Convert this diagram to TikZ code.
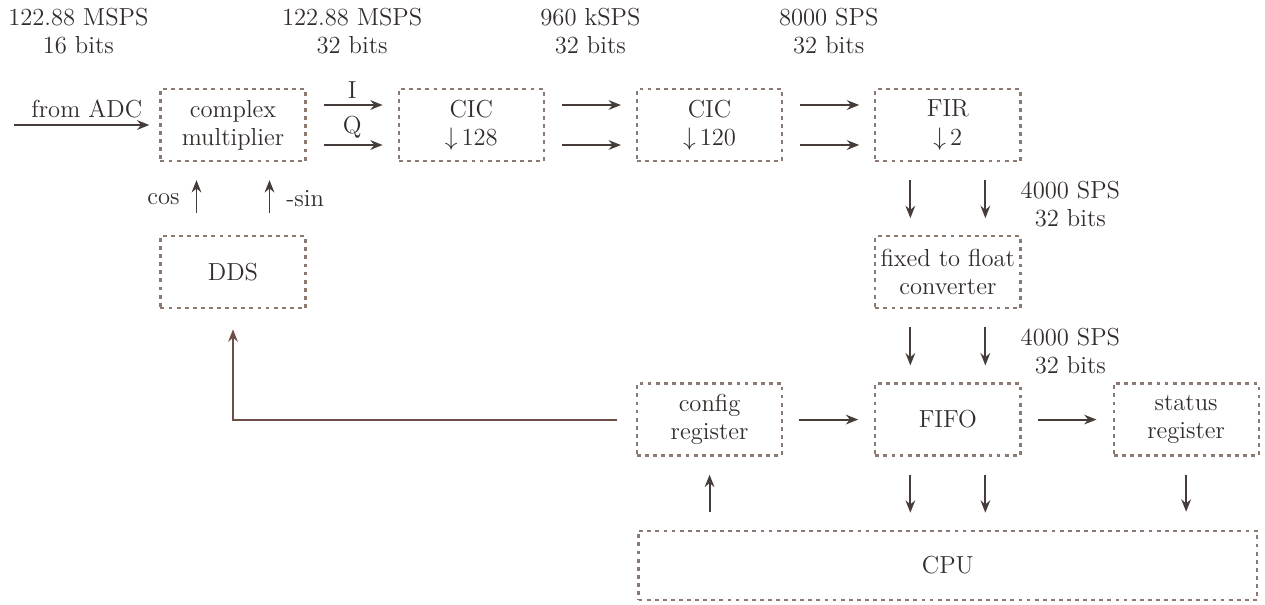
\documentclass[tikz,border=0pt]{standalone}
\usepackage{tikz}
\usetikzlibrary{arrows.meta,positioning,calc}
\definecolor{ink}{RGB}{50,45,43}
\definecolor{dots}{RGB}{140,122,114}
\definecolor{wire}{RGB}{70,60,58}
\definecolor{back}{RGB}{110,78,72}
\tikzset{
  flow/.style={-{Stealth[length=7pt,width=5.5pt]},line width=1.1pt,draw=wire},
  blk/.style={draw=dots,line width=1.3pt,dash pattern=on 2.2pt off 2.4pt,text=ink,
              align=center,minimum width=2.9cm,minimum height=1.44cm,inner sep=1pt},
  rate/.style={align=center,text=ink}
}

\begin{document}
\begin{tikzpicture}[node distance=1.46cm and 1.82cm,font=\fontsize{14}{16}\selectfont]
  \useasboundingbox (-4.66,2.5) rectangle (20.64,-9.58);
  % processing chain
  \node[blk] (mult) {complex\\multiplier};
  \node[blk,right=of mult] (cic1) {CIC\\$\downarrow$\,128};
  \node[blk,right=of cic1] (cic2) {CIC\\$\downarrow$\,120};
  \node[blk,right=of cic2] (fir) {FIR\\$\downarrow$\,2};
  \node[blk,below=of mult] (dds) {DDS};
  \node[blk,below=of fir] (conv) {fixed to float\\converter};
  \node[blk,below=of conv] (fifo) {FIFO};
  \node[blk,left=of fifo] (cfg) {config\\register};
  \node[blk,right=of fifo] (stat) {status\\register};
  \node[blk,below=of fifo,minimum width=12.37cm,minimum height=1.38cm] (cpu) {CPU};
  % rates
  \node[rate] (r0) at ([xshift=-1.62cm,yshift=1.88cm]mult.west) {122.88 MSPS\\16 bits};
  \node[rate] (r1) at ($(mult.east)!.5!(cic1.west)+(0,1.88)$) {122.88 MSPS\\32 bits};
  \node[rate] (r2) at ($(cic1.east)!.5!(cic2.west)+(0,1.88)$) {960 kSPS\\32 bits};
  \node[rate] (r3) at ($(cic2.east)!.5!(fir.west)+(0,1.88)$) {8000 SPS\\32 bits};
  \node[rate,anchor=west] (r4) at ($(fir.south east)!.5!(conv.north east)+(-0.14,-0.11)$) {4000 SPS\\32 bits};
  \node[rate,anchor=west] (r5) at ($(conv.south east)!.5!(fifo.north east)+(-0.14,-0.1)$) {4000 SPS\\32 bits};
  % connections
  \coordinate[left=2.9cm of mult.west] (adc);
  \draw[flow,shorten >=0.2cm] (adc) -- node[rate,above]{from ADC} (mult.west);
  \draw[flow,shorten <=0.34cm,shorten >=0.3cm] ([yshift=0.4cm]mult.east) -- node[rate,above]{I} ([yshift=0.4cm]cic1.west);
  \draw[flow,shorten <=0.34cm,shorten >=0.3cm] ([yshift=-0.4cm]mult.east) -- node[rate,above]{Q} ([yshift=-0.4cm]cic1.west);
  \foreach \a/\b in {cic1/cic2,cic2/fir}
    \foreach \dy in {0.4,-0.4}
      \draw[flow,shorten <=0.34cm,shorten >=0.3cm] ([yshift=\dy cm]\a.east) -- ([yshift=\dy cm]\b.west);
  \foreach \a/\b in {fir/conv,conv/fifo,fifo/cpu}
    \foreach \dx in {-0.75,0.75}
      \draw[flow,shorten <=0.36cm,shorten >=0.34cm] ([xshift=\dx cm]\a.south) -- ([xshift=\dx cm]\b.north);
  \draw[flow,shorten <=0.44cm,shorten >=0.36cm] ([xshift=-0.73cm]dds.north) -- node[rate,left=0.2cm]{cos} ([xshift=-0.73cm]mult.south);
  \draw[flow,shorten <=0.44cm,shorten >=0.36cm] ([xshift=0.73cm]dds.north) -- node[rate,right=0.2cm]{-sin} ([xshift=0.73cm]mult.south);
  \draw[flow,shorten <=0.32cm,shorten >=0.32cm] (cfg) -- (fifo);
  \draw[flow,shorten <=0.32cm,shorten >=0.32cm] (fifo) -- (stat);
  \draw[flow,shorten <=0.36cm,shorten >=0.36cm] (cpu.north -| cfg) -- (cfg.south);
  \draw[flow,shorten <=0.36cm,shorten >=0.36cm] (stat.south) -- (stat.south |- cpu.north);
  \draw[flow,draw=back,shorten <=0.38cm,shorten >=0.4cm] (cfg.west) -| (dds.south);
\end{tikzpicture}
\end{document}
